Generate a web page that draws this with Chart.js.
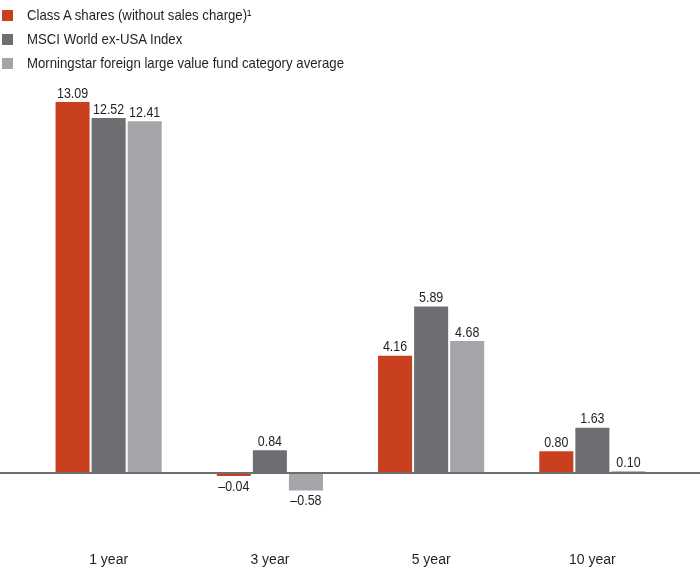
<!DOCTYPE html>
<html>
<head>
<meta charset="utf-8">
<script src="https://cdn.jsdelivr.net/npm/chart.js@4.4.1/dist/chart.umd.min.js"></script>
<style>
    html, body { margin:0; padding:0; background:#fff; }
    #wrap { position:relative; width:700px; height:569px; }
    #legend { position:absolute; left:2px; top:3px; font-family:'Liberation Sans',sans-serif; font-size:15px; color:#231f20; }
    .lg-row { height:24px; line-height:24px; white-space:nowrap; }
    .lg-box { display:inline-block; width:11px; height:11px; margin-right:14px; vertical-align:-1px; }
    .lg-text { display:inline-block; transform:scaleX(0.88); transform-origin:left center; }
</style>
</head>
<body>
<div id="wrap">
    <canvas id="chart" width="700" height="569"></canvas>
    <div id="legend"></div>
</div>
<script>
// periods and returns (%)
const PERIODS = ['1 year', '3 year', '5 year', '10 year'];
const SERIES_NAMES = [
    'Class A shares (without sales charge)\u00b9',
    'MSCI World ex-USA Index',
    'Morningstar foreign large value fund category average'
];
const CLASS_A = [13.09, -0.04, 4.16, 0.80];
const MSCI_WORLD = [12.52, 0.84, 5.89, 1.63];
const MORNINGSTAR = [12.41, -0.58, 4.68, 0.10];
const COLORS = ['#c9401f', '#6d6e72', '#a4a5a8'];

const FONT = "'Liberation Sans',sans-serif";
const TEXT = '#231f20';

function fmt(v) {
    return v < 0 ? '\u2013' + Math.abs(v).toFixed(2) : v.toFixed(2);
}

// value labels above (or below for negatives) each bar, squeezed a bit
const valueLabels = {
    id: 'valueLabels',
    afterDatasetsDraw(chart) {
        const ctx = chart.ctx;
        chart.data.datasets.forEach((ds, i) => {
            chart.getDatasetMeta(i).data.forEach((bar, j) => {
                const v = ds.data[j];
                ctx.save();
                ctx.font = '15px ' + FONT;
                ctx.fillStyle = TEXT;
                ctx.textAlign = 'center';
                ctx.translate(bar.x, bar.y);
                ctx.scale(0.83, 1);
                if (v < 0) {
                    ctx.textBaseline = 'top';
                    ctx.fillText(fmt(v), 0, 3);
                } else {
                    ctx.textBaseline = 'bottom';
                    ctx.fillText(fmt(v), 0, -1);
                }
                ctx.restore();
            });
        });
    }
};

// zero line across the full width, sitting just on top of the baseline
const zeroLine = {
    id: 'zeroLine',
    afterDatasetsDraw(chart) {
        const y = Math.round(chart.scales.y.getPixelForValue(0)) - 1;
        const ctx = chart.ctx;
        ctx.save();
        ctx.strokeStyle = '#6d6e72';
        ctx.lineWidth = 2;
        ctx.beginPath();
        ctx.moveTo(0, y);
        ctx.lineTo(chart.width, y);
        ctx.stroke();
        ctx.restore();
    }
};

const DATA = [CLASS_A, MSCI_WORLD, MORNINGSTAR];

document.getElementById('legend').innerHTML = SERIES_NAMES.map((n, i) =>
    `<div class="lg-row"><span class="lg-box" style="background:${COLORS[i]}"></span><span class="lg-text">${n}</span></div>`
).join('');

new Chart(document.getElementById('chart'), {
    type: 'bar',
    data: {
        labels: PERIODS,
        datasets: SERIES_NAMES.map((n, i) => ({
            label: n,
            data: DATA[i],
            backgroundColor: COLORS[i],
            borderWidth: 0,
            categoryPercentage: 0.671,
            barPercentage: 0.944,
            minBarLength: 2
        }))
    },
    options: {
        responsive: false,
        animation: false,
        layout: { padding: { top: 76, left: 28, right: 27, bottom: -9 } },
        plugins: { legend: { display: false }, tooltip: { enabled: false } },
        scales: {
            x: {
                grid: { display: false, drawTicks: false },
                border: { display: false },
                ticks: { color: TEXT, font: { family: FONT, size: 14 }, padding: 9 }
            },
            y: { display: false, min: -2.43, max: 14 }
        }
    },
    plugins: [zeroLine, valueLabels]
});
</script>
</body>
</html>
